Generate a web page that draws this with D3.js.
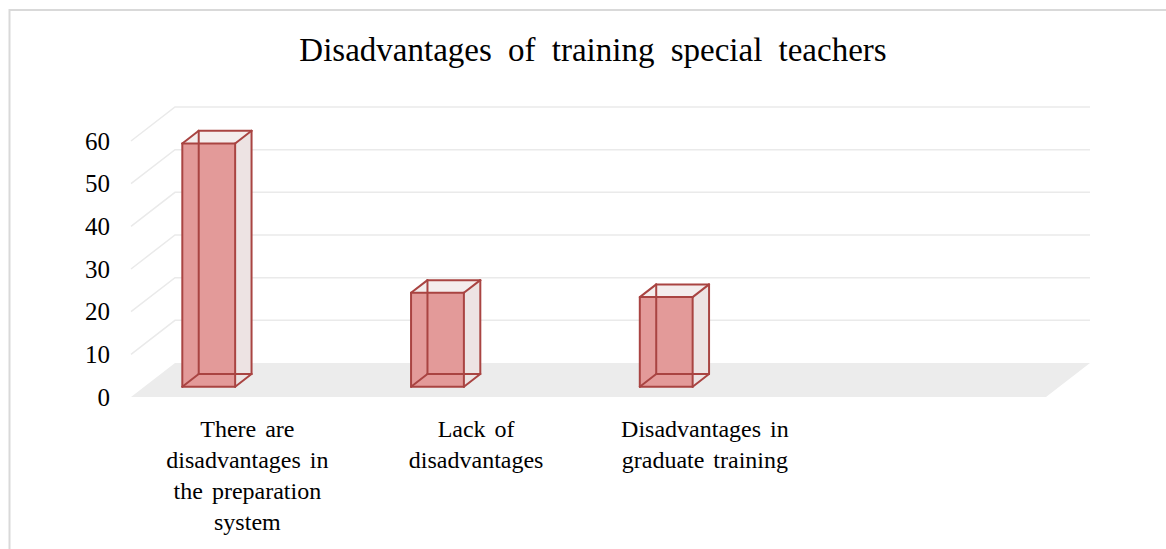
<!DOCTYPE html>
<html>
<head>
<meta charset="utf-8">
<title>Disadvantages of training special teachers</title>
<script src="https://cdn.jsdelivr.net/npm/d3@7"></script>
<style>
  body { margin: 0; background: #fff; }
  text { font-family: "Liberation Serif", "Times New Roman", serif; fill: #000; }
</style>
</head>
<body>
<div id="main-container"></div>
<script>
// data
var categories = ['There are disadvantages in the preparation system', 'Lack of disadvantages', 'Disadvantages in graduate training', ''];
var values = [57, 22, 21, null];
var yTicks = [0, 10, 20, 30, 40, 50, 60];
var title = 'Disadvantages of training special teachers';

var width = 1166, height = 549;
var frontY = 397;          // floor front edge
var depthX = 44, depthY = 34; // floor depth offset
var barZ0 = 0.303, barZ1 = 0.676;

var svg = d3.select('#main-container')
  .append('svg')
    .attr('width', width)
    .attr('height', height);

// chart frame
svg.append('rect')
  .attr('x', 9.5).attr('y', 10)
  .attr('width', 1300).attr('height', 700)
  .attr('fill', 'none')
  .attr('stroke', '#d9d9d9')
  .attr('stroke-width', 2);

svg.append('text')
  .attr('x', 593)
  .attr('y', 61)
  .attr('text-anchor', 'middle')
  .attr('font-size', '33px')
  .attr('word-spacing', '8px')
  .text(title);

var x = d3.scaleBand().domain(d3.range(categories.length)).range([131, 1046]);
var h = d3.scaleLinear().domain([0, 60]).range([0, 256]);

// projection helpers
var px = function(wx, z) { return wx + depthX * z; };
var py = function(v, z) { return frontY - depthY * z - h(v); };

// floor
svg.append('polygon')
  .attr('points', [[px(131, 0), py(0, 0)], [px(131, 1), py(0, 1)], [px(1046, 1), py(0, 1)], [px(1046, 0), py(0, 0)]].join(' '))
  .attr('fill', '#ececec');

// gridlines (side wall + back wall)
var grid = svg.append('g').attr('stroke', '#eaeaea').attr('stroke-width', 1.5).attr('fill', 'none');
yTicks.filter(function(d) { return d > 0; }).forEach(function(d) {
  grid.append('path')
    .attr('d', 'M' + px(131, 0) + ',' + py(d, 0) + 'L' + px(131, 1) + ',' + py(d, 1) + 'L' + px(1046, 1) + ',' + py(d, 1));
});

// y axis labels
var yAxisScale = d3.scaleLinear().domain([0, 60]).range([frontY, frontY - 256]);
var yAxis = svg.append('g')
  .attr('transform', 'translate(110,0)')
  .call(d3.axisLeft(yAxisScale).tickValues(yTicks).tickSize(0).tickPadding(0));
yAxis.select('.domain').remove();
yAxis.selectAll('text')
  .attr('font-size', '25px')
  .attr('fill', '#000')
  .attr('dy', '0.32em');

// bars
var barData = values.map(function(v, i) { return { v: v, i: i }; }).filter(function(d) { return d.v != null; });
barData.forEach(function(d) {
  var bw = x.bandwidth();
  var x0 = x(d.i) + bw * 0.166, x1 = x(d.i) + bw * 0.397;
  var P = function(wx, v, z) { return [px(wx, z), py(v, z)]; };
  var g = svg.append('g');
  var face = function(pts, fill) {
    g.append('polygon').attr('points', pts.join(' ')).attr('fill', fill).attr('stroke', 'none');
  };
  // back / side faces
  face([P(x1, 0, barZ0), P(x1, 0, barZ1), P(x1, d.v, barZ1), P(x1, d.v, barZ0)], '#ede3e3');
  face([P(x0, d.v, barZ0), P(x0, d.v, barZ1), P(x1, d.v, barZ1), P(x1, d.v, barZ0)], '#f4eded');
  // front face
  face([P(x0, 0, barZ0), P(x1, 0, barZ0), P(x1, d.v, barZ0), P(x0, d.v, barZ0)], '#e39a99');
  // all edges of the transparent box
  var corners = [];
  [0, d.v].forEach(function(v) {
    [barZ0, barZ1].forEach(function(z) {
      [x0, x1].forEach(function(wx) { corners.push(P(wx, v, z)); });
    });
  });
  var edges = [[0,1],[2,3],[4,5],[6,7],[0,2],[1,3],[4,6],[5,7],[0,4],[1,5],[2,6],[3,7]];
  edges.forEach(function(e) {
    g.append('line')
      .attr('x1', corners[e[0]][0]).attr('y1', corners[e[0]][1])
      .attr('x2', corners[e[1]][0]).attr('y2', corners[e[1]][1])
      .attr('stroke', '#a94442')
      .attr('stroke-width', 2)
      .attr('stroke-linecap', 'round');
  });
});

// category labels, wrapped
var wrap = function(textSel, str, maxW) {
  var words = str.split(' '), lines = [], line = [];
  var probe = textSel.append('tspan');
  words.forEach(function(w) {
    line.push(w);
    probe.text(line.join(' '));
    if (probe.node().getComputedTextLength() > maxW && line.length > 1) {
      line.pop();
      lines.push(line.join(' '));
      line = [w];
    }
  });
  lines.push(line.join(' '));
  probe.remove();
  return lines;
};

categories.forEach(function(c, i) {
  if (!c) return;
  var t = svg.append('text')
    .attr('text-anchor', 'middle')
    .attr('font-size', '24px')
    .attr('word-spacing', '3px');
  var cx = x(i) + x.bandwidth() / 2 + 2;
  var lines = wrap(t, c, 180);
  lines.forEach(function(l, j) {
    t.append('tspan')
      .attr('x', cx)
      .attr('y', 437 + j * 31)
      .text(l);
  });
});
</script>
</body>
</html>
